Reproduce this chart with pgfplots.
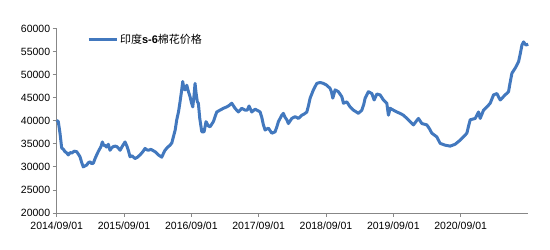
\documentclass[border=0pt]{standalone}
\usepackage{pgfplots}
\pgfplotsset{compat=1.18}
\usepackage{fontspec}
\setmainfont{Liberation Sans}
\newfontfamily\cjk{Noto Sans CJK SC}
\definecolor{linecol}{HTML}{4278BE}
\definecolor{axcol}{HTML}{878787}
\begin{document}
\begin{tikzpicture}
\useasboundingbox (-56.7bp,-37bp) rectangle (493.3bp,213bp);
\begin{axis}[
  at={(0,0)}, anchor=south west,
  scale only axis, width=471.3bp, height=184.5bp,
  xmin=0, xmax=7.0, ymin=20000, ymax=60000,
  axis x line*=bottom, axis y line*=left,
  axis line style={axcol, line width=0.8bp, -},
  tick align=outside, major tick length=4bp,
  tick style={axcol, line width=0.8bp},
  xtick={0,1,2,3,4,5,6},
  xticklabels={2014/09/01,2015/09/01,2016/09/01,2017/09/01,2018/09/01,2019/09/01,2020/09/01},
  ytick={20000,25000,...,60000},
  /pgf/number format/fixed,
  /pgf/number format/set thousands separator={},
  /pgf/number format/assume math mode=true,
  scaled y ticks=false,
  tick label style={font=\fontsize{10.5bp}{12bp}\selectfont, text=black},
  yticklabel style={xshift=1bp},
  xticklabel style={yshift=-1bp},
  legend style={draw=none, fill=none, at={(rel axis cs:0.064,0.938)}, anchor=west, inner sep=0pt,
    font=\fontsize{11bp}{12bp}\selectfont},
  legend image code/.code={\draw[#1] (0bp,0bp) -- (28bp,0bp);},
  clip=false,
]
\addplot[linecol, line width=3bp, line join=round] coordinates {
(0.000,40100) (0.024,39800) (0.049,37300) (0.074,34100) (0.100,33800) (0.123,33300)
(0.150,33000) (0.172,32600) (0.200,33100) (0.223,33000) (0.260,33400) (0.297,33300)
(0.320,32800) (0.346,32200) (0.370,31000) (0.395,30000) (0.420,30200) (0.446,30400)
(0.470,30900) (0.495,31100) (0.520,30700) (0.544,30800) (0.570,31800) (0.594,32600)
(0.620,33400) (0.643,34000) (0.660,34500) (0.678,35400) (0.700,34600) (0.718,34700)
(0.740,34300) (0.767,34900) (0.780,34200) (0.792,33600) (0.815,34100) (0.841,34400)
(0.870,34500) (0.892,34400) (0.920,34000) (0.941,33600) (0.980,34600) (1.015,35400)
(1.040,34600) (1.064,33600) (1.089,32200) (1.120,32400) (1.163,31800) (1.200,32100)
(1.238,32600) (1.280,33300) (1.312,34000) (1.340,33700) (1.361,33600) (1.400,33800)
(1.435,33500) (1.470,33200) (1.510,32600) (1.560,32100) (1.585,32900) (1.609,33600)
(1.650,34300) (1.684,34700) (1.710,35200) (1.733,36500) (1.760,38000) (1.783,40200)
(1.810,42000) (1.832,44100) (1.855,46500) (1.872,48500) (1.890,46900) (1.906,46700)
(1.932,47700) (1.955,46400) (1.981,45200) (2.000,44000) (2.021,43000) (2.040,45500)
(2.055,48100) (2.070,46000) (2.089,44100) (2.104,43800) (2.125,40500) (2.155,37600)
(2.189,37600) (2.218,39800) (2.250,38900) (2.278,38700) (2.327,39800) (2.350,40800)
(2.377,41900) (2.426,42300) (2.476,42700) (2.526,43000) (2.560,43300) (2.600,43800)
(2.649,42700) (2.698,41900) (2.749,42700) (2.798,42300) (2.830,42300) (2.857,43200)
(2.897,41900) (2.947,42500) (3.000,42100) (3.021,41900) (3.045,40800) (3.070,39100)
(3.095,38000) (3.144,38400) (3.195,37300) (3.244,37600) (3.270,38700) (3.293,39800)
(3.343,41200) (3.367,41600) (3.390,40800) (3.418,40200) (3.441,39400) (3.492,40500)
(3.541,40900) (3.590,40500) (3.640,41200) (3.680,41500) (3.715,41900) (3.740,43300)
(3.764,44900) (3.813,46700) (3.863,48100) (3.912,48300) (3.961,48100) (4.012,47700)
(4.061,47000) (4.080,46300) (4.101,44900) (4.135,46700) (4.184,46300) (4.235,45200)
(4.259,43800) (4.309,44100) (4.358,43000) (4.407,42300) (4.440,42000) (4.481,41600)
(4.532,42300) (4.560,43500) (4.581,44900) (4.630,46300) (4.681,45900) (4.715,44500)
(4.755,45800) (4.804,45600) (4.853,44500) (4.903,43800) (4.927,41200) (4.952,42700)
(5.001,42300) (5.052,41900) (5.100,41600) (5.150,41200) (5.224,40200) (5.299,39100)
(5.340,39900) (5.373,40500) (5.423,39400) (5.498,39100) (5.535,38300) (5.572,37300)
(5.646,36500) (5.695,35100) (5.770,34700) (5.844,34500) (5.918,34900) (5.993,35800)
(6.040,36500) (6.092,37300) (6.115,38700) (6.141,40200) (6.216,40500) (6.265,41900)
(6.290,40500) (6.340,42300) (6.390,43000) (6.439,43800) (6.488,45600) (6.538,45900)
(6.587,44500) (6.661,45600) (6.711,46300) (6.735,48300) (6.761,50300) (6.810,51400)
(6.860,52800) (6.885,54500) (6.910,56400) (6.934,57100) (6.969,56400) (7.003,56600)
};
\addlegendentry{{\cjk 印度}\textbf{s-6}{\cjk 棉花价格}}
\end{axis}
\end{tikzpicture}
\end{document}
